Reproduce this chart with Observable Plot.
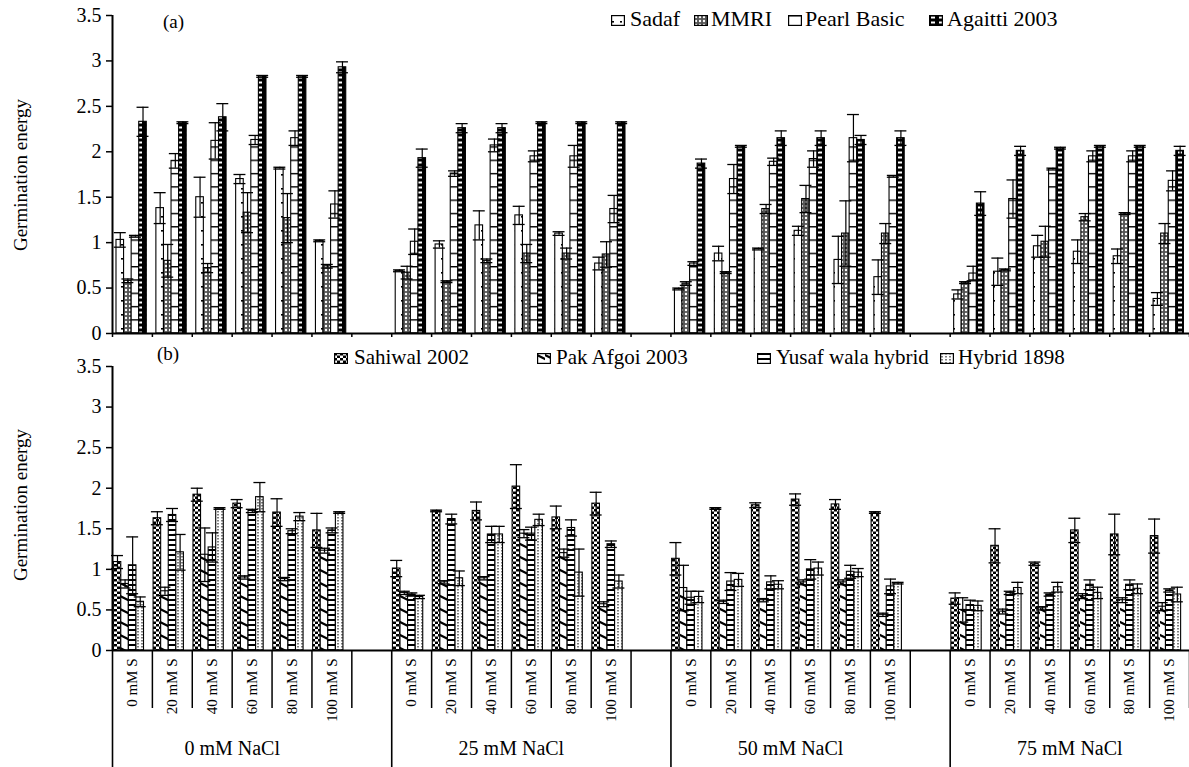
<!DOCTYPE html>
<html><head><meta charset="utf-8">
<script src="https://cdn.jsdelivr.net/npm/d3@7"></script>
<script src="https://cdn.jsdelivr.net/npm/@observablehq/plot@0.6"></script>
<style>
body{margin:0;background:#fff;}
#wrap{position:relative;width:1189px;height:767px;font-family:"Liberation Serif","Times New Roman",Times,"DejaVu Serif",serif;color:#000;overflow:hidden;}
#wrap svg text{font-family:"Liberation Serif","Times New Roman",Times,"DejaVu Serif",serif;}
.abs{position:absolute;}
.ytitle{position:absolute;font-size:19px;white-space:nowrap;transform:translate(-50%,-50%) rotate(-90deg);}
.leg{position:absolute;white-space:nowrap;}
.leg svg{position:absolute;}
.leg span{position:absolute;top:0;}
</style></head><body>
<svg width="0" height="0" style="position:absolute">
<defs>
  <pattern id="pa0" patternUnits="userSpaceOnUse" width="8" height="14">
    <rect width="8" height="14" fill="#fff"/><rect x="1" y="6" width="2" height="1.6" fill="#000"/>
  </pattern>
  <pattern id="pa1" patternUnits="userSpaceOnUse" width="4" height="4">
    <rect width="4" height="4" fill="#555"/><circle cx="2" cy="2" r="1.2" fill="#fff"/>
  </pattern>
  <pattern id="pa2" patternUnits="userSpaceOnUse" width="8" height="13.3">
    <rect width="8" height="13.3" fill="#fff"/><rect y="0" width="8" height="1.4" fill="#000"/>
  </pattern>
  <pattern id="pa3" patternUnits="userSpaceOnUse" width="8" height="5">
    <rect width="8" height="5" fill="#000"/><rect x="2" y="1.5" width="4" height="2" fill="#fff"/>
  </pattern>
  <pattern id="pb0" patternUnits="userSpaceOnUse" width="6" height="5">
    <rect width="6" height="5" fill="#fff"/><rect x="0" y="0" width="3" height="2.5" fill="#000"/><rect x="3" y="2.5" width="3" height="2.5" fill="#000"/>
  </pattern>
  <pattern id="pb1" patternUnits="userSpaceOnUse" width="8" height="13">
    <rect width="8" height="13" fill="#fff"/><path d="M-1,1.5 L9,6.5" stroke="#000" stroke-width="2.2"/>
  </pattern>
  <pattern id="pb2" patternUnits="userSpaceOnUse" width="8" height="5">
    <rect width="8" height="5" fill="#fff"/><rect y="0" width="8" height="2" fill="#000"/>
  </pattern>
  <pattern id="pb3" patternUnits="userSpaceOnUse" width="4" height="3">
    <rect width="4" height="3" fill="#fff"/><rect x="1.5" y="0" width="1" height="1.5" fill="#000"/>
  </pattern>
</defs>
</svg>
<div id="wrap"></div>
<script>
// ---------- data ----------
const nacl = ["0 mM NaCl", "25 mM NaCl", "50 mM NaCl", "75 mM NaCl"];
const sulphur = ["0 mM S", "20 mM S", "40 mM S", "60 mM S", "80 mM S", "100 mM S"];
const yTicks = [0, 0.5, 1, 1.5, 2, 2.5, 3, 3.5];

const seriesA = ["Sadaf", "MMRI", "Pearl Basic", "Agaitti 2003"];
const seriesB = ["Sahiwal 2002", "Pak Afgoi 2003", "Yusaf wala hybrid", "Hybrid 1898"];

// order: NaCl 0 (S 0..100), NaCl 25, NaCl 50, NaCl 75
const sadaf      = [1.03,1.38,1.50,1.70,1.82,1.02, 0.69,0.98,1.19,1.30,1.10,0.77, 0.49,0.88,0.93,1.13,0.81,0.62, 0.43,0.68,0.96,0.90,0.85,0.38];
const sadafErr   = [0.08,0.17,0.22,0.05,0.01,0.01, 0.01,0.04,0.16,0.10,0.02,0.07, 0.01,0.08,0.01,0.05,0.26,0.19, 0.05,0.15,0.12,0.13,0.08,0.07];
const mmri       = [0.58,0.80,0.72,1.33,1.27,0.74, 0.67,0.57,0.80,0.88,0.88,0.87, 0.55,0.67,1.37,1.48,1.10,1.10, 0.56,0.70,1.01,1.28,1.32,1.10];
const mmriErr    = [0.02,0.18,0.05,0.22,0.27,0.02, 0.07,0.01,0.02,0.10,0.06,0.14, 0.02,0.01,0.05,0.15,0.36,0.11, 0.01,0.01,0.17,0.04,0.01,0.11];
const pearl      = [1.07,1.90,2.12,2.13,2.15,1.42, 1.01,1.76,2.07,1.95,1.95,1.37, 0.77,1.70,1.89,1.92,2.15,1.73, 0.66,1.48,1.81,1.95,1.95,1.68];
const pearlErr   = [0.01,0.08,0.20,0.05,0.08,0.15, 0.14,0.03,0.07,0.06,0.12,0.15, 0.02,0.16,0.04,0.09,0.26,0.01, 0.08,0.21,0.01,0.06,0.06,0.11];
const agaitti    = [2.33,2.32,2.38,2.83,2.83,2.93, 1.93,2.26,2.26,2.32,2.32,2.32, 1.87,2.06,2.15,2.15,2.13,2.15, 1.43,2.01,2.04,2.06,2.06,2.01];
const agaittiErr = [0.16,0.01,0.15,0.01,0.01,0.06, 0.10,0.05,0.05,0.01,0.01,0.01, 0.05,0.01,0.08,0.08,0.05,0.08, 0.13,0.05,0.01,0.01,0.01,0.05];

const sahiwal    = [1.09,1.63,1.92,1.81,1.70,1.48, 1.01,1.72,1.72,2.02,1.64,1.81, 1.13,1.75,1.79,1.86,1.80,1.70, 0.64,1.29,1.07,1.48,1.43,1.41];
const sahiwalErr = [0.08,0.08,0.08,0.05,0.17,0.21, 0.10,0.01,0.11,0.27,0.14,0.14, 0.20,0.01,0.03,0.07,0.06,0.01, 0.07,0.21,0.02,0.15,0.25,0.21];
const pak        = [0.82,0.73,1.18,0.90,0.88,1.23, 0.71,0.84,0.89,1.44,1.20,0.57, 0.77,0.60,0.62,0.84,0.84,0.44, 0.50,0.48,0.52,0.67,0.62,0.54];
const pakErr     = [0.05,0.05,0.33,0.02,0.02,0.03, 0.02,0.02,0.02,0.05,0.05,0.03, 0.28,0.02,0.02,0.03,0.03,0.02, 0.15,0.03,0.02,0.03,0.03,0.05];
const yusaf      = [1.05,1.67,1.27,1.72,1.47,1.48, 0.69,1.62,1.43,1.44,1.51,1.31, 0.65,0.85,0.84,1.00,0.97,0.79, 0.56,0.71,0.69,0.81,0.81,0.74];
const yusafErr   = [0.35,0.08,0.18,0.02,0.03,0.03, 0.02,0.06,0.10,0.08,0.10,0.04, 0.08,0.11,0.08,0.12,0.08,0.09, 0.06,0.02,0.02,0.06,0.06,0.02];
const hybrid     = [0.60,1.21,1.75,1.89,1.65,1.70, 0.66,0.89,1.43,1.61,0.96,0.85, 0.66,0.87,0.81,1.01,0.96,0.83, 0.55,0.77,0.78,0.71,0.76,0.69];
const hybridErr  = [0.06,0.22,0.01,0.18,0.05,0.01, 0.02,0.09,0.10,0.07,0.29,0.08, 0.07,0.08,0.05,0.08,0.05,0.01, 0.06,0.07,0.06,0.07,0.06,0.09];

// ---------- helpers ----------
const W = 1189;
const NSLOT = 27;          // 4 groups x 6 levels + 3 blank separators
const BW = 0.19;           // bar width in slot units
const FONT = '"Liberation Serif", "Times New Roman", Times, "DejaVu Serif", serif';
const patA = ["url(#pa0)", "url(#pa1)", "url(#pa2)", "url(#pa3)"];
const patB = ["url(#pb0)", "url(#pb1)", "url(#pb2)", "url(#pb3)"];

function rowsFor(series, vals, errs, off) {
  const rows = [];
  series.forEach((name, i) => {
    vals[i].forEach((v, k) => {
      const g = Math.floor(k / 6), s = k % 6;
      const x0 = g * 7 + s + off + i * BW;
      rows.push({name, i, v, e: errs[i][k], x1: x0, x2: x0 + BW, xc: x0 + BW / 2});
    });
  });
  return rows;
}
function barMarks(rows, pats) {
  const m = pats.map((p, i) => Plot.rectY(rows.filter(r => r.i === i), {
    x1: "x1", x2: "x2", y1: 0, y2: "v", fill: p, stroke: "#000", strokeWidth: 1.1
  }));
  m.push(Plot.ruleX(rows, {x: "xc", y1: d => d.v - d.e, y2: d => d.v + d.e, stroke: "#000", strokeWidth: 1.2}));
  m.push(Plot.ruleY(rows, {y: d => d.v + d.e, x1: d => d.xc - 0.15, x2: d => d.xc + 0.15, stroke: "#000", strokeWidth: 1.3}));
  m.push(Plot.ruleY(rows, {y: d => d.v - d.e, x1: d => d.xc - 0.15, x2: d => d.xc + 0.15, stroke: "#000", strokeWidth: 1.3}));
  return m;
}

const slotBounds = [];
const innerBounds = [];
const groupBounds = [];
const slotLabels = [];
const groupLabels = [];
nacl.forEach((g, gi) => {
  groupBounds.push(gi * 7);
  groupLabels.push({label: g, xc: gi * 7 + 3});
  sulphur.forEach((s, si) => {
    slotBounds.push(gi * 7 + si);
    innerBounds.push(gi * 7 + si + 1);
    slotLabels.push({label: s, xc: gi * 7 + si + 0.5});
  });
  slotBounds.push(gi * 7 + 6);
});

const wrap = document.getElementById("wrap");
const baseStyle = {fontFamily: FONT, fontSize: "20px", color: "#000", background: "transparent", overflow: "visible"};
const fmt = d => String(d);

// ---------- panel (a) ----------
const rowsA = rowsFor(seriesA, [sadaf, mmri, pearl, agaitti], [sadafErr, mmriErr, pearlErr, agaittiErr], 0.1);
const plotA = Plot.plot({
  width: W, height: 342, marginLeft: 112, marginRight: 0, marginTop: 15, marginBottom: 9,
  style: baseStyle,
  x: {domain: [0, NSLOT]},
  y: {domain: [0, 3.5]},
  marks: [
    ...barMarks(rowsA, patA),
    Plot.axisX({ticks: slotBounds, tickSize: 4, tickFormat: () => "", strokeWidth: 1.5, label: null}),
    Plot.axisY({ticks: yTicks, tickFormat: fmt, tickSize: 6, tickPadding: 5, label: null, fontSize: 20, strokeWidth: 1.5}),
    Plot.ruleX([0], {strokeWidth: 2}),
    Plot.ruleY([0], {strokeWidth: 2})
  ]
});
plotA.style.position = "absolute"; plotA.style.left = "0px"; plotA.style.top = "0px";
wrap.appendChild(plotA);

// ---------- panel (b) ----------
const rowsB = rowsFor(seriesB, [sahiwal, pak, yusaf, hybrid], [sahiwalErr, pakErr, yusafErr, hybridErr], 0.03);
const plotB = Plot.plot({
  width: W, height: 433, marginLeft: 112, marginRight: 0, marginTop: 32, marginBottom: 117,
  style: baseStyle,
  x: {domain: [0, NSLOT]},
  y: {domain: [0, 3.5]},
  marks: [
    ...barMarks(rowsB, patB),
    Plot.axisX({ticks: innerBounds, tickSize: 58, tickFormat: () => "", strokeWidth: 1.5, label: null}),
    Plot.axisX({ticks: groupBounds, tickSize: 117, tickFormat: () => "", strokeWidth: 1.6, label: null}),
    Plot.text(slotLabels, {x: "xc", y: 0, text: "label", rotate: -90, textAnchor: "end", dy: 8, fontSize: 15}),
    Plot.text(groupLabels, {x: "xc", y: 0, text: "label", dy: 98, fontSize: 20}),
    Plot.axisY({ticks: yTicks, tickFormat: fmt, tickSize: 6, tickPadding: 5, label: null, fontSize: 20, strokeWidth: 1.5}),
    Plot.ruleX([0], {strokeWidth: 2}),
    Plot.ruleY([0], {strokeWidth: 2})
  ]
});
plotB.style.position = "absolute"; plotB.style.left = "0px"; plotB.style.top = "334px";
wrap.appendChild(plotB);

// ---------- titles & legends ----------
function addDiv(cls, text, css) {
  const d = document.createElement("div");
  d.className = cls; d.textContent = text;
  Object.assign(d.style, css);
  wrap.appendChild(d);
  return d;
}
addDiv("ytitle", "Germination energy", {left: "21px", top: "175px"});
addDiv("ytitle", "Germination energy", {left: "21px", top: "505px"});
addDiv("abs", "(a)", {left: "163px", top: "11px", fontSize: "19px"});
addDiv("abs", "(b)", {left: "157px", top: "343px", fontSize: "19px"});

function legend(names, pats, swX, txX, cy, fs) {
  names.forEach((n, i) => {
    const d = document.createElement("div");
    d.className = "leg";
    d.style.fontSize = fs + "px"; d.style.lineHeight = fs + "px";
    d.style.left = swX[i] + "px"; d.style.top = (cy - fs / 2) + "px";
    d.innerHTML = `<svg width="14" height="11" style="top:${fs / 2 - 4}px"><rect x="0.6" y="0.6" width="12.8" height="9.8" fill="${pats[i]}" stroke="#000" stroke-width="1.2"/></svg><span style="left:${txX[i] - swX[i]}px">${n}</span>`;
    wrap.appendChild(d);
  });
}
legend(seriesA, patA, [611, 694, 788, 929], [630, 711, 805, 947], 19, 22);
legend(seriesB, patB, [334, 537, 757, 940], [354, 556, 776, 958], 357, 21);
</script>
</body></html>
